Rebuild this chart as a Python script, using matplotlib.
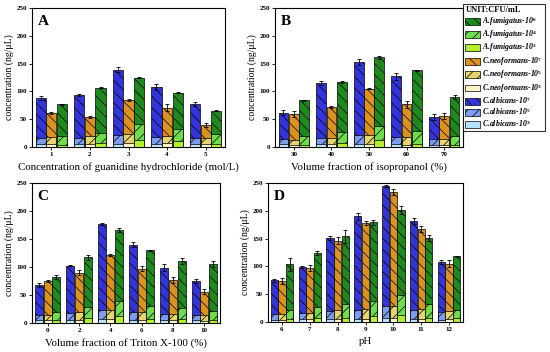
import matplotlib
matplotlib.use("Agg")
import matplotlib.pyplot as plt
from matplotlib.patches import Patch

plt.rcParams['font.family'] = ['Liberation Serif', 'DejaVu Serif']
plt.rcParams['font.weight'] = 'bold'
plt.rcParams['mathtext.fontset'] = 'custom'
plt.rcParams['mathtext.rm'] = 'Liberation Serif:bold'
plt.rcParams['mathtext.default'] = 'rm'
plt.rcParams['hatch.linewidth'] = 0.5

# ---- data (ng/uL) ----
# A: guanidine hydrochloride (mol/L)
A_x = [1, 2, 3, 4, 5]
A_alb = [88, 94, 139, 108, 77]
A_alb_mid = [17, 17, 22, 18, 17]
A_alb_lo = [6, 5, 6, 6, 5]
A_alb_err = [3, 2, 5, 5, 4]
A_neo = [61, 54, 84, 71, 40]
A_neo_mid = [18, 19, 24, 20, 17]
A_neo_lo = [5, 5, 7, 7, 5]
A_neo_err = [2, 2, 2, 6, 4]
A_fum = [77, 107, 125, 98, 65]
A_fum_mid = [19, 26, 41, 32, 23]
A_fum_lo = [4, 8, 13, 10, 5]
A_fum_err = [1, 1, 1, 1, 1]

# B: isopropanol (%)
B_x = [30, 40, 50, 60, 70]
B_alb = [62, 115, 153, 127, 54]
B_alb_mid = [15, 16, 22, 18, 14]
B_alb_lo = [5, 5, 5, 5, 4]
B_alb_err = [5, 4, 6, 6, 5]
B_neo = [59, 72, 105, 77, 56]
B_neo_mid = [13, 16, 22, 18, 14]
B_neo_lo = [4, 5, 5, 4, 4]
B_neo_err = [5, 2, 1, 6, 6]
B_fum = [84, 117, 161, 138, 90]
B_fum_mid = [19, 27, 38, 28, 20]
B_fum_lo = [4, 8, 12, 6, 4]
B_fum_err = [1, 1, 2, 1, 4]

# C: Triton X-100 (%)
C_x = [0, 2, 4, 6, 8, 10]
C_alb = [68, 102, 177, 140, 99, 75]
C_alb_mid = [15, 18, 24, 20, 16, 14]
C_alb_lo = [5, 5, 7, 6, 5, 5]
C_alb_err = [3, 1, 2, 4, 6, 3]
C_neo = [75, 90, 122, 97, 77, 56]
C_neo_mid = [15, 19, 24, 20, 16, 14]
C_neo_lo = [5, 6, 8, 6, 5, 4]
C_neo_err = [2, 5, 2, 5, 5, 5]
C_fum = [82, 117, 166, 130, 111, 105]
C_fum_mid = [20, 29, 40, 31, 27, 22]
C_fum_lo = [6, 9, 13, 8, 7, 6]
C_fum_err = [4, 4, 4, 1, 5, 5]

# D: pH
D_x = [6, 7, 8, 9, 10, 11, 12]
D_alb = [75, 99, 151, 190, 245, 182, 108]
D_alb_mid = [14, 16, 20, 22, 28, 22, 18]
D_alb_lo = [4, 5, 5, 5, 7, 5, 4]
D_alb_err = [3, 1, 4, 6, 2, 5, 4]
D_neo = [74, 97, 146, 178, 234, 167, 105]
D_neo_mid = [14, 17, 21, 24, 28, 23, 19]
D_neo_lo = [4, 5, 6, 6, 8, 6, 5]
D_neo_err = [6, 5, 6, 3, 5, 6, 6]
D_fum = [104, 124, 154, 179, 202, 151, 118]
D_fum_mid = [22, 27, 32, 38, 49, 32, 22]
D_fum_lo = [5, 7, 8, 10, 13, 8, 8]
D_fum_err = [12, 4, 12, 4, 7, 6, 1]

# colours: (high, mid, low) per species
alb_cols = ['#3434dc', '#7d9cf0', '#b4e2ff']
neo_cols = ['#dc921e', '#e6d46e', '#fff2c8']
fum_cols = ['#1e8a1e', '#70dc4c', '#b2ee2e']
hatches = ['\\\\\\', '///', None]


def draw_panel(ax, x, series, step, letter, xlabel, xlim):
    w = step * 0.26
    off = step * 0.275
    for k, (hi, mid, lo, err, cols) in enumerate(series):
        xs = [v + (k - 1) * off for v in x]
        for lev, vals in enumerate([hi, mid, lo]):
            ax.bar(xs, vals, w, color=cols[lev], edgecolor='black', lw=0.5,
                   hatch=hatches[lev], zorder=2 + lev)
        ax.errorbar(xs, hi, yerr=err, fmt='none', ecolor='black',
                    elinewidth=0.6, capsize=1.5, capthick=0.6, zorder=6)
    ax.set_xlim(*xlim)
    ax.set_ylim(0, 250)
    ax.set_xticks(x)
    ax.set_yticks([0, 50, 100, 150, 200, 250])
    ax.tick_params(labelsize=5, length=2, width=0.6, pad=1.5)
    ax.set_ylabel('concentration (ng/μL)', fontsize=7, labelpad=2)
    ax.set_xlabel(xlabel, fontsize=7.8, labelpad=4)
    ax.text(0.03, 0.95, letter, transform=ax.transAxes, fontsize=11,
            fontweight='bold', va='top', ha='left')
    for s in ax.spines.values():
        s.set_linewidth(0.8)


fig = plt.figure(figsize=(5.5, 3.52), dpi=100)
axA = fig.add_axes([32 / 550, 1 - 147 / 352, 193 / 550, 139 / 352])
axB = fig.add_axes([275 / 550, 1 - 147 / 352, 188 / 550, 139 / 352])
axC = fig.add_axes([32 / 550, 1 - 323 / 352, 188 / 550, 140 / 352])
axD = fig.add_axes([268 / 550, 1 - 322 / 352, 195 / 550, 139 / 352])

draw_panel(axA, A_x, [(A_alb, A_alb_mid, A_alb_lo, A_alb_err, alb_cols),
                      (A_neo, A_neo_mid, A_neo_lo, A_neo_err, neo_cols),
                      (A_fum, A_fum_mid, A_fum_lo, A_fum_err, fum_cols)],
           1, 'A', 'Concentration of guanidine hydrochloride (mol/L)', (0.5, 5.5))
draw_panel(axB, B_x, [(B_alb, B_alb_mid, B_alb_lo, B_alb_err, alb_cols),
                      (B_neo, B_neo_mid, B_neo_lo, B_neo_err, neo_cols),
                      (B_fum, B_fum_mid, B_fum_lo, B_fum_err, fum_cols)],
           10, 'B', 'Volume fraction of isopropanol (%)', (25, 75))
draw_panel(axC, C_x, [(C_alb, C_alb_mid, C_alb_lo, C_alb_err, alb_cols),
                      (C_neo, C_neo_mid, C_neo_lo, C_neo_err, neo_cols),
                      (C_fum, C_fum_mid, C_fum_lo, C_fum_err, fum_cols)],
           2, 'C', 'Volume fraction of Triton X-100 (%)', (-1, 11))
draw_panel(axD, D_x, [(D_alb, D_alb_mid, D_alb_lo, D_alb_err, alb_cols),
                      (D_neo, D_neo_mid, D_neo_lo, D_neo_err, neo_cols),
                      (D_fum, D_fum_mid, D_fum_lo, D_fum_err, fum_cols)],
           1, 'D', 'pH', (5.5, 12.5))

# legend
leg_labels = ['A.fumigatus-10$^6$', 'A.fumigatus-10$^4$', 'A.fumigatus-10$^2$',
              'C.neoformans-10$^7$', 'C.neoformans-10$^5$', 'C.neoformans-10$^3$',
              'C.albicans-10$^7$', 'C.albicans-10$^5$', 'C.albicans-10$^3$']
handles = []
for cols in [fum_cols, neo_cols, alb_cols]:
    for lev in range(3):
        handles.append(Patch(facecolor=cols[lev], edgecolor='black', lw=0.5,
                             hatch=hatches[lev]))
leg = fig.legend(handles, leg_labels, loc='upper left',
                 bbox_to_anchor=(463 / 550, 1 - 4 / 352), title='UNIT:CFU/mL',
                 fontsize=5.6, title_fontsize=6, frameon=True, fancybox=False,
                 edgecolor='black', handlelength=1.9, handleheight=1.0,
                 handletextpad=0.25, labelspacing=0.05, borderpad=0.3,
                 borderaxespad=0)
leg._legend_box.align = 'left'
leg.get_frame().set_linewidth(0.8)
for t in leg.get_texts():
    t.set_fontstyle('italic')
    t.set_fontweight('bold')
leg.get_title().set_fontweight('bold')

fig.savefig('out.png', dpi=100)
